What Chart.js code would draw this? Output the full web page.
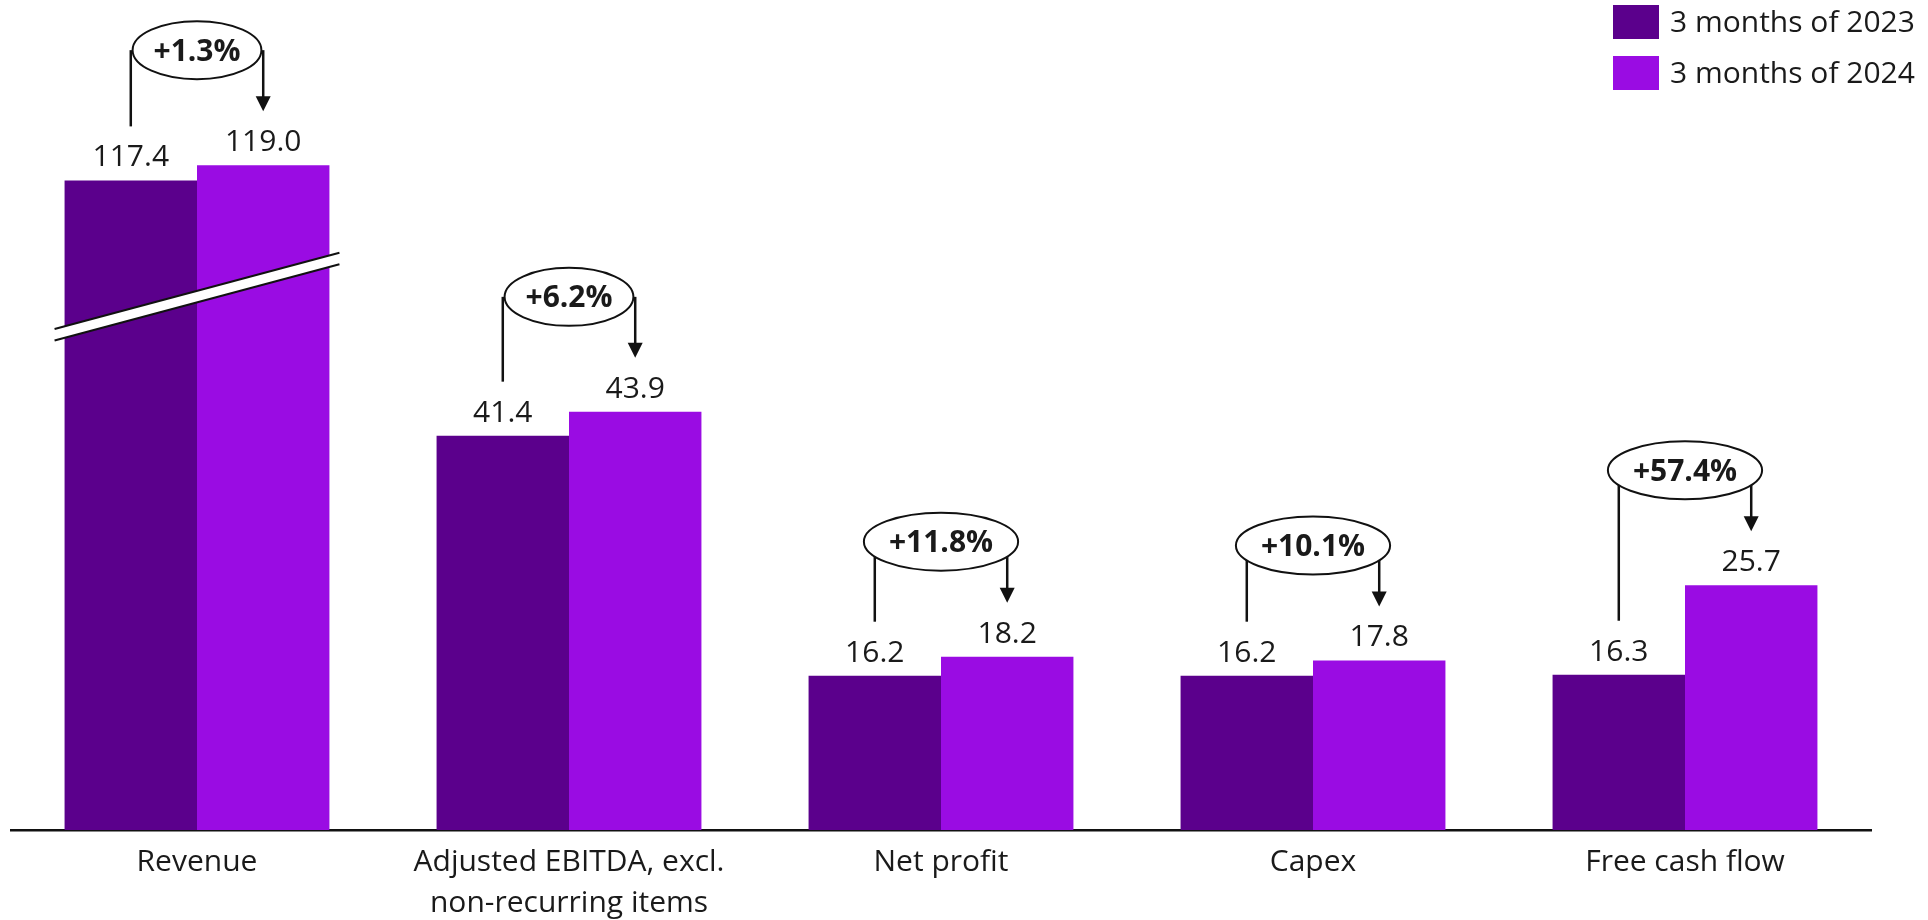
<!DOCTYPE html>
<html><head><meta charset="utf-8">
<script src="https://cdn.jsdelivr.net/npm/chart.js@4/dist/chart.umd.min.js"></script>
<style>html,body{margin:0;padding:0;background:#fff;overflow:hidden}#wrap{width:1928px;height:920px;position:relative}</style>
</head><body><div id="wrap"><canvas id="c" width="1928" height="920"></canvas></div>
<script>
// ---- data ----
const categories = ['Revenue', ['Adjusted EBITDA, excl.', 'non-recurring items'], 'Net profit', 'Capex', 'Free cash flow'];
const seriesNames = ['3 months of 2023', '3 months of 2024'];
const values2023 = [117.4, 41.4, 16.2, 16.2, 16.3];
const values2024 = [119.0, 43.9, 18.2, 17.8, 25.7];
const changeLabels = ['+1.3%', '+6.2%', '+11.8%', '+10.1%', '+57.4%'];
// broken (truncated) revenue bars
const brokenCategory = 0;
const breakOffset = 49.2;
const breakLowValue = 52.6, breakHighValue = 60.6, breakGap = 1.2;

const colors = ['#5B008C', '#9A0CE3'];
const FONT = '"Open Sans", "Noto Sans", sans-serif';
const TEXT = '#1a1a1a';

const shown = arr => arr.map((v, i) => i === brokenCategory ? v - breakOffset : v);
const actual = [values2023, values2024];

const overlay = {
  id: 'overlay',
  afterDatasetsDraw(chart) {
    const ctx = chart.ctx;
    const y = chart.scales.y;
    const m0 = chart.getDatasetMeta(0), m1 = chart.getDatasetMeta(1);
    ctx.save();
    // break band
    {
      const b0 = m0.data[brokenCategory], b1 = m1.data[brokenCategory];
      const xl = b0.x - b0.width / 2 - 10, xr = b1.x + b1.width / 2 + 10;
      const ylTop = y.getPixelForValue(breakLowValue), yrTop = y.getPixelForValue(breakHighValue);
      const ylBot = y.getPixelForValue(breakLowValue - breakGap), yrBot = y.getPixelForValue(breakHighValue - breakGap);
      ctx.beginPath();
      ctx.moveTo(xl, ylTop); ctx.lineTo(xr, yrTop); ctx.lineTo(xr, yrBot); ctx.lineTo(xl, ylBot); ctx.closePath();
      ctx.fillStyle = '#fff'; ctx.fill();
      ctx.strokeStyle = '#111'; ctx.lineWidth = 2;
      ctx.beginPath(); ctx.moveTo(xl, ylTop); ctx.lineTo(xr, yrTop); ctx.stroke();
      ctx.beginPath(); ctx.moveTo(xl, ylBot); ctx.lineTo(xr, yrBot); ctx.stroke();
    }
    // value labels
    ctx.fillStyle = TEXT;
    ctx.font = '30px ' + FONT;
    ctx.textAlign = 'center';
    ctx.textBaseline = 'alphabetic';
    [m0, m1].forEach((m, d) => {
      m.data.forEach((b, i) => {
        ctx.fillText(actual[d][i].toFixed(1), b.x, b.y - 14);
      });
    });
    // change annotations
    ctx.font = 'bold 30px ' + FONT;
    changeLabels.forEach((lab, i) => {
      const b0 = m0.data[i], b1 = m1.data[i];
      const top = Math.min(b0.y, b1.y);
      const cy = top - 115;
      const cx = (b0.x + b1.x) / 2;
      const w = ctx.measureText(lab).width;
      const rx = Math.max(0.74 * w, 62), ry = 29;
      ctx.strokeStyle = '#111'; ctx.fillStyle = '#111'; ctx.lineWidth = 2.5;
      ctx.beginPath(); ctx.moveTo(b0.x, cy); ctx.lineTo(b0.x, b0.y - 54); ctx.stroke();
      const tip = b1.y - 54;
      ctx.beginPath(); ctx.moveTo(b1.x, cy); ctx.lineTo(b1.x, tip - 12); ctx.stroke();
      ctx.beginPath(); ctx.moveTo(b1.x - 7.5, tip - 15); ctx.lineTo(b1.x + 7.5, tip - 15); ctx.lineTo(b1.x, tip); ctx.closePath(); ctx.fill();
      ctx.beginPath(); ctx.ellipse(cx, cy, rx, ry, 0, 0, Math.PI * 2);
      ctx.fillStyle = '#fff'; ctx.fill();
      ctx.lineWidth = 2; ctx.stroke();
      ctx.fillStyle = TEXT;
      ctx.fillText(lab, cx, cy + 10.5);
    });
    // legend
    ctx.font = '30px ' + FONT;
    ctx.textAlign = 'left';
    ctx.textBaseline = 'middle';
    seriesNames.forEach((n, k) => {
      const ty = 5 + k * 51;
      ctx.fillStyle = colors[k];
      ctx.fillRect(1613, ty, 46, 34);
      ctx.fillStyle = TEXT;
      ctx.fillText(n, 1670, ty + 18);
    });
    ctx.restore();
  }
};

new Chart(document.getElementById('c'), {
  type: 'bar',
  data: {
    labels: categories,
    datasets: [
      { label: seriesNames[0], data: shown(values2023), backgroundColor: colors[0], borderWidth: 0 },
      { label: seriesNames[1], data: shown(values2024), backgroundColor: colors[1], borderWidth: 0 }
    ]
  },
  options: {
    responsive: false, animation: false, devicePixelRatio: 1,
    categoryPercentage: 0.712, barPercentage: 1.0,
    layout: { padding: { left: 11, right: 57, top: 68, bottom: 0 } },
    plugins: { legend: { display: false }, tooltip: { enabled: false } },
    scales: {
      x: {
        grid: { display: false, drawTicks: false },
        border: { display: true, color: '#111', width: 2.5 },
        ticks: { color: TEXT, font: { family: FONT, size: 30, lineHeight: 1.37 }, padding: 12, maxRotation: 0, autoSkip: false },
        afterFit: s => { s.height = 90; }
      },
      y: { display: false, min: 0, max: 80 }
    }
  },
  plugins: [overlay]
});
</script></body></html>
